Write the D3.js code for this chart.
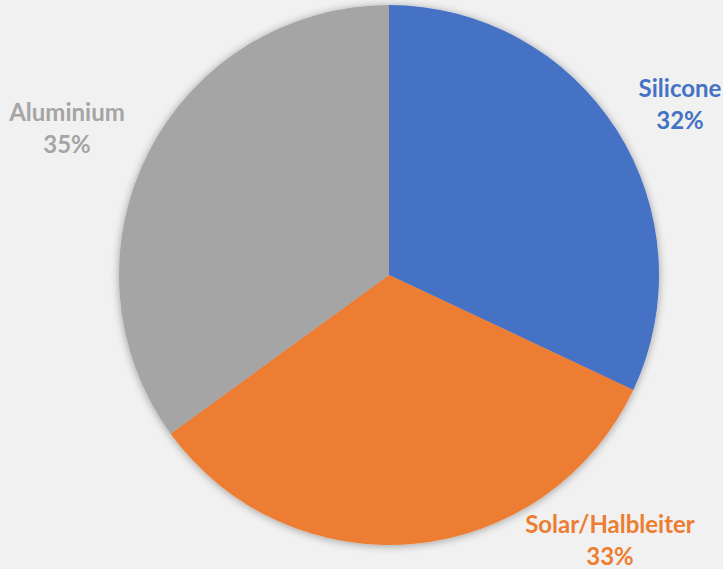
<!DOCTYPE html>
<html><head><meta charset="utf-8">
<script src="https://cdn.jsdelivr.net/npm/d3@7"></script>
<style>html,body{margin:0;padding:0;background:#f1f1f1;}svg{display:block;}</style>
</head><body>
<script>
const categories = ["Silicone", "Solar/Halbleiter", "Aluminium"];
const values = [32, 33, 35];
const colors = ["#4472C4", "#ED7D31", "#A5A5A5"];
const labelPos = [[680, 97], [610, 533], [67, 121]];

const W = 723, H = 569;
const cx = 389, cy = 275, R = 270;
const svg = d3.select("body").append("svg").attr("width", W).attr("height", H);
svg.append("rect").attr("width", W).attr("height", H).attr("fill", "#f1f1f1");
const defs = svg.append("defs");
const f = defs.append("filter").attr("id", "sh").attr("x", "-20%").attr("y", "-20%").attr("width", "140%").attr("height", "140%");
f.append("feGaussianBlur").attr("in", "SourceAlpha").attr("stdDeviation", 4).attr("result", "b");
f.append("feOffset").attr("in", "b").attr("dx", 0).attr("dy", 1).attr("result", "o");
f.append("feComponentTransfer").attr("in", "o").attr("result", "o2").append("feFuncA").attr("type", "linear").attr("slope", 0.35);
const m = f.append("feMerge");
m.append("feMergeNode").attr("in", "o2");
m.append("feMergeNode").attr("in", "SourceGraphic");

const data = categories.map((c, i) => ({cat: c, value: values[i], color: colors[i], pos: labelPos[i]}));
const pie = d3.pie().sort(null).value(d => d.value);
const arc = d3.arc().innerRadius(0).outerRadius(R);
const g = svg.append("g").attr("transform", `translate(${cx},${cy})`).attr("filter", "url(#sh)");
g.selectAll("path").data(pie(data)).join("path").attr("d", arc).attr("fill", d => d.data.color);

const total = d3.sum(values);
const lab = svg.append("g").attr("font-family", "Lato, 'Open Sans', sans-serif").attr("font-weight", "bold").attr("font-size", 24).attr("text-anchor", "middle");
data.forEach(d => {
  const t = lab.append("text").attr("fill", d.color);
  t.append("tspan").attr("x", d.pos[0]).attr("y", d.pos[1]).text(d.cat);
  t.append("tspan").attr("x", d.pos[0]).attr("y", d.pos[1] + 32).text(Math.round(d.value / total * 100) + "%");
});
</script>
</body></html>
